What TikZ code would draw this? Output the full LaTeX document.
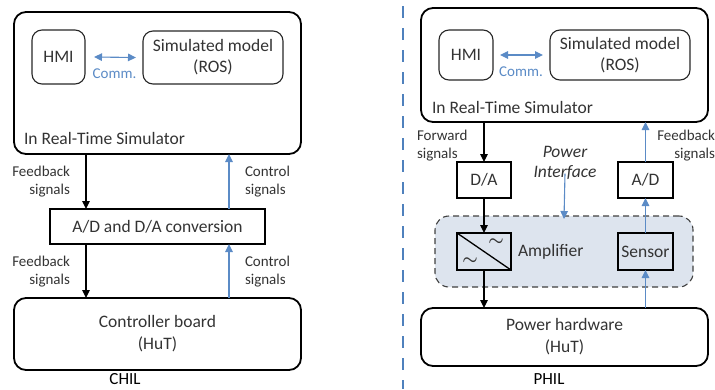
\documentclass[tikz,border=0pt]{standalone}
\usepackage{fontspec}
\setmainfont{Carlito}
\usetikzlibrary{arrows.meta}
\definecolor{arrblue}{HTML}{5B8BC6}
\definecolor{lineblue}{HTML}{4F81BD}
\definecolor{pifill}{HTML}{DDE4EE}
\definecolor{txt}{HTML}{333333}
\begin{document}
\begin{tikzpicture}[x=1pt,y=-1pt,
  every node/.style={inner sep=0pt, outer sep=0pt, text=txt},
  bigbox/.style={draw, line width=1.8pt, rounded corners=12pt},
  inbox/.style={draw=black!85, line width=1.1pt, rounded corners=10pt},
  sqbox/.style={draw, line width=1.8pt},
  tip/.style={Triangle[length=8pt,width=7.5pt]},
  blk/.style={-{Triangle[length=8pt,width=7.5pt]}, line width=1.1pt},
  blu/.style={-{Triangle[length=8pt,width=7.5pt]}, line width=1.1pt, draw=arrblue, fill=arrblue},
  big/.style={font=\fontsize{17.5}{21}\selectfont},
  small/.style={font=\fontsize{15}{18}\selectfont},
  tld/.style={font=\fontsize{18}{18}\selectfont\boldmath}
]
\useasboundingbox (0,0) rectangle (715,389);

% ---------------- CHIL ----------------
\node[bigbox, minimum width=287pt, minimum height=142pt] (rtL) at (157.5,83) {};
\node[inbox, minimum width=53pt, minimum height=54pt, big] (hmiL) at (58.5,57) {HMI};
\node[inbox, minimum width=140pt, minimum height=53pt, big, align=center] (simL) at (213,57.5) {Simulated model\\(ROS)};
\draw[blu, {Triangle[length=8pt,width=7.5pt]}-{Triangle[length=8pt,width=7.5pt]}] ([xshift=9pt]hmiL.east) -- ([xshift=-7pt]simL.west);
\node[small, text=arrblue] (commL) at (114.5,74) {Comm.};
\node[big, anchor=west] (rtsL) at (24,138) {In Real-Time Simulator};

\node[sqbox, minimum width=215pt, minimum height=35pt, big] (adL) at (157.5,226.5) {A/D and D/A conversion};
\node[bigbox, minimum width=287pt, minimum height=72pt, big, align=center] (cbL) at (157.5,334) {Controller board\\[1pt](HuT)};

\draw[blk] ([xshift=-71.5pt]rtL.south) -- ([xshift=-71.5pt]adL.north);
\draw[blu] ([xshift=71.5pt]adL.north) -- ([xshift=71.5pt]rtL.south);
\draw[blk] ([xshift=-71.5pt]adL.south) -- ([xshift=-71.5pt]cbL.north);
\draw[blu] ([xshift=71.5pt]cbL.north) -- ([xshift=71.5pt]adL.south);

\node[small, anchor=east, align=right] (fb1L) at (70,182) {Feedback\\signals};
\node[small, anchor=west, align=left] (cs1L) at (245,182) {Control\\signals};
\node[small, anchor=east, align=right] (fb2L) at (70,272) {Feedback\\signals};
\node[small, anchor=west, align=left] (cs2L) at (245,272) {Control\\signals};
\node[font=\fontsize{17}{20}\selectfont, text=black] (chil) at (125,379) {CHIL};

% ---------------- separator ----------------
\coordinate (sepT) at (403,0);
\coordinate (sepB) at (403,389);
\draw[lineblue, line width=1.8pt, dash pattern=on 12pt off 10pt, dash phase=-6pt] (sepT) -- (sepB);

% ---------------- PHIL ----------------
\node[bigbox, minimum width=287pt, minimum height=114pt] (rtR) at (564.5,65) {};
\node[inbox, minimum width=54pt, minimum height=50pt, big] (hmiR) at (466,55) {HMI};
\node[inbox, minimum width=140pt, minimum height=50pt, big, align=center] (simR) at (620,55) {Simulated model\\(ROS)};
\draw[blu, {Triangle[length=8pt,width=7.5pt]}-{Triangle[length=8pt,width=7.5pt]}] ([xshift=7pt]hmiR.east) -- ([xshift=-7pt]simR.west);
\node[small, text=arrblue] (commR) at (521,72) {Comm.};
\node[big, anchor=west] (rtsR) at (432,107) {In Real-Time Simulator};

\node[sqbox, minimum width=54pt, minimum height=36pt, big] (daR) at (484,180) {D/A};
\node[sqbox, minimum width=55pt, minimum height=36pt, big] (adR) at (645.5,180) {A/D};

\node[small, anchor=west, align=left] (fwR) at (417,146) {Forward\\signals};
\node[small, anchor=east, align=right] (fbR) at (715,146) {Feedback\\signals};
\node[big, align=center, font=\fontsize{17.5}{20}\selectfont\itshape] (piR) at (565,163) {Power\\Interface};

\node[draw=black!75, dash pattern=on 6pt off 4pt, line width=1.1pt, fill=pifill, rounded corners=14pt, minimum width=258pt, minimum height=71pt] (regR) at (564,251.5) {};
\draw[blu] ([yshift=6pt]piR.south) -- ([yshift=-3pt]regR.north);

\node[sqbox, minimum width=54pt, minimum height=37pt] (conv) at (484,251.5) {};
\draw[line width=1.3pt] (conv.north west) -- (conv.south east);
\node[tld] (t1) at (496,242) {$\sim$};
\node[tld] (t2) at (470,261) {$\sim$};
\node[big, anchor=west] (ampR) at (518,252) {Amplifier};
\node[sqbox, minimum width=55pt, minimum height=37pt, big] (sens) at (645.5,251.5) {Sensor};

\node[bigbox, minimum width=287pt, minimum height=58pt, big, align=center] (phR) at (564.5,337) {Power hardware\\[1pt](HuT)};

\draw[blk] (rtR.south -| daR.north) -- (daR.north);
\draw[blk] (daR.south) -- (conv.north);
\draw[blk] (conv.south) -- (conv.south |- phR.north);
\draw[blu] (phR.north -| sens.south) -- (sens.south);
\draw[blu] (sens.north) -- (adR.south);
\draw[blu] (adR.north) -- (adR.north |- rtR.south);

\node[font=\fontsize{17}{20}\selectfont, text=black] (phil) at (549,379) {PHIL};
\end{tikzpicture}
\end{document}
